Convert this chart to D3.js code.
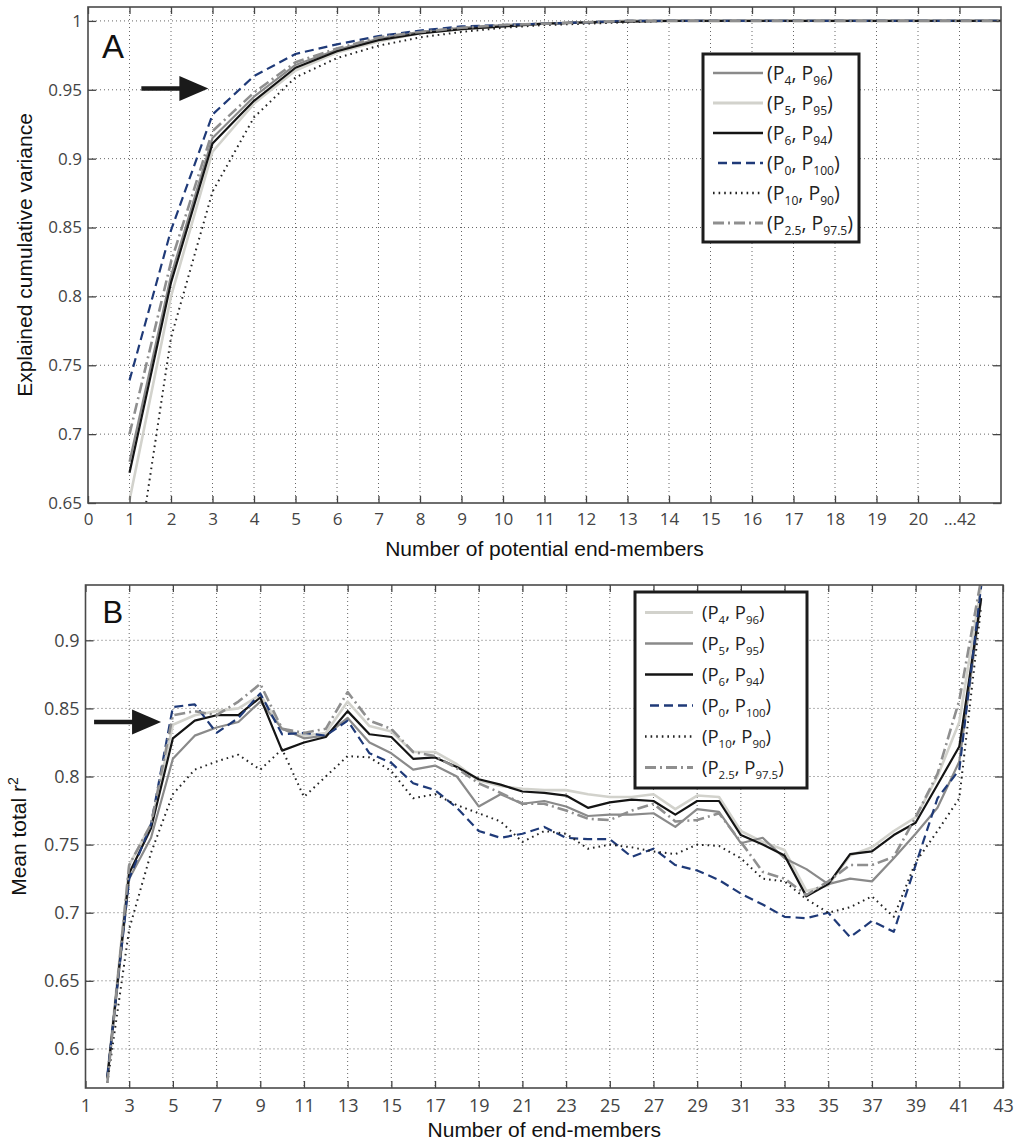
<!DOCTYPE html>
<html lang="en">
<head>
    <meta charset="UTF-8">
    <title>End-member variance and r2</title>
    <script src="https://cdn.jsdelivr.net/npm/d3@7"></script>
    <style>
    html,body{
        margin:0;
        background:#fff;
    }
    .tick text{
        font-family:"Open Sans",sans-serif;
        fill:#444;
    }
    .grid line{
        stroke:#666;
        stroke-width:1;
        stroke-dasharray:1,3;
    }
    .axisLabel{
        font-family:"Liberation Sans",Arial,sans-serif;
        font-size:21px;
        fill:#111;
    }
    .legend text{
        font-family:"Open Sans",sans-serif;
        fill:#222;
    }
    </style>
</head>
<body>
<script>
// ---------- panel A: explained cumulative variance ----------
const aPoints = [1,2,3,4,5,6,7,8,9,10,11,12,13,14,15,16,17,18,19,20,21,22];
const aTicks = [0,1,2,3,4,5,6,7,8,9,10,11,12,13,14,15,16,17,18,19,20,21];
const aTickLabels = ["0","1","2","3","4","5","6","7","8","9","10","11","12","13","14","15","16","17","18","19","20","…42"];
const aYTicks = [0.65,0.7,0.75,0.8,0.85,0.9,0.95,1];

const aP4  = [0.680,0.815,0.915,0.945,0.968,0.979,0.987,0.992,0.995,0.997,0.998,0.999,1,1,1,1,1,1,1,1,1,1];
const aP5  = [0.652,0.800,0.905,0.940,0.964,0.977,0.985,0.991,0.994,0.996,0.998,0.999,1,1,1,1,1,1,1,1,1,1];
const aP6  = [0.672,0.810,0.911,0.942,0.966,0.978,0.986,0.991,0.994,0.996,0.998,0.999,0.9995,1,1,1,1,1,1,1,1,1];
const aP0  = [0.739,0.848,0.932,0.960,0.976,0.983,0.989,0.993,0.996,0.997,0.998,0.999,1,1,1,1,1,1,1,1,1,1];
const aP10 = [0.570,0.770,0.876,0.930,0.959,0.973,0.982,0.988,0.992,0.995,0.997,0.998,0.999,1,1,1,1,1,1,1,1,1];
const aP25 = [0.700,0.825,0.920,0.948,0.970,0.980,0.988,0.992,0.995,0.997,0.998,0.999,1,1,1,1,1,1,1,1,1,1];

// ---------- panel B: mean total r2 ----------
const bPoints = [2,3,4,5,6,7,8,9,10,11,12,13,14,15,16,17,18,19,20,21,22,23,24,25,26,27,28,29,30,31,32,33,34,35,36,37,38,39,40,41,42];
const bTicks = [1,3,5,7,9,11,13,15,17,19,21,23,25,27,29,31,33,35,37,39,41,43];
const bYTicks = [0.6,0.65,0.7,0.75,0.8,0.85,0.9];

const bP4  = [0.580,0.735,0.765,0.838,0.845,0.848,0.850,0.860,0.835,0.830,0.832,0.855,0.837,0.833,0.818,0.818,0.809,0.797,0.793,0.791,0.790,0.790,0.787,0.785,0.785,0.787,0.776,0.786,0.785,0.760,0.752,0.746,0.716,0.720,0.742,0.748,0.760,0.770,0.800,0.840,0.940];
const bP5  = [0.578,0.725,0.755,0.813,0.830,0.836,0.840,0.855,0.835,0.828,0.830,0.843,0.825,0.817,0.805,0.808,0.800,0.778,0.787,0.780,0.782,0.778,0.771,0.772,0.772,0.773,0.763,0.776,0.774,0.751,0.755,0.740,0.732,0.721,0.725,0.723,0.740,0.758,0.777,0.811,0.930];
const bP6  = [0.579,0.729,0.762,0.828,0.841,0.845,0.845,0.858,0.819,0.825,0.829,0.848,0.831,0.829,0.813,0.814,0.807,0.798,0.794,0.789,0.788,0.786,0.777,0.781,0.783,0.782,0.772,0.782,0.782,0.757,0.750,0.742,0.712,0.721,0.743,0.745,0.757,0.766,0.794,0.822,0.931];
const bP0  = [0.580,0.725,0.765,0.851,0.853,0.832,0.843,0.861,0.831,0.832,0.830,0.841,0.817,0.810,0.795,0.790,0.777,0.760,0.755,0.758,0.763,0.755,0.754,0.754,0.741,0.747,0.735,0.731,0.724,0.714,0.706,0.697,0.696,0.700,0.682,0.694,0.686,0.735,0.784,0.805,0.940];
const bP10 = [0.575,0.688,0.744,0.787,0.805,0.811,0.816,0.805,0.820,0.785,0.800,0.815,0.814,0.804,0.784,0.787,0.779,0.773,0.767,0.752,0.760,0.758,0.747,0.750,0.748,0.745,0.743,0.750,0.749,0.740,0.725,0.723,0.710,0.700,0.704,0.712,0.697,0.737,0.760,0.784,0.925];
const bP25 = [0.575,0.735,0.765,0.845,0.848,0.845,0.855,0.868,0.835,0.832,0.835,0.862,0.841,0.835,0.818,0.815,0.806,0.795,0.788,0.780,0.780,0.775,0.769,0.768,0.775,0.780,0.767,0.768,0.773,0.752,0.730,0.725,0.713,0.723,0.735,0.735,0.741,0.770,0.802,0.856,0.945];

// line styles
const STYLE = {
    black:  {stroke:"#141414", width:2.2, dash:null},
    mid:    {stroke:"#8a8a8a", width:2.2, dash:null},
    light:  {stroke:"#d2d2cc", width:2.6, dash:null},
    blue:   {stroke:"#1f3a78", width:2.2, dash:"9,5"},
    dotted: {stroke:"#222",    width:2,   dash:"1.6,4"},
    dashdot:{stroke:"#8f8f8f", width:2.6, dash:"11,4,2,4"}
};

const svg = d3.select("body").append("svg")
    .attr("width",1014)
    .attr("height",1140);

function panel(opt){
    let g = svg.append("g").attr("transform",`translate(${opt.left},${opt.top})`);
    let w = opt.right - opt.left, h = opt.bottom - opt.top;
    let x = d3.scaleLinear().domain(opt.xDomain).range([0,w]);
    let y = d3.scaleLinear().domain(opt.yDomain).range([h,0]);

    // dotted grid
    g.append("g").attr("class","grid")
        .selectAll("line").data(opt.xTicks.filter(t=>t>opt.xDomain[0])).join("line")
        .attr("x1",d=>x(d)).attr("x2",d=>x(d)).attr("y1",0).attr("y2",h);
    g.append("g").attr("class","grid")
        .selectAll("line").data(opt.yTicks.filter(t=>t>opt.yDomain[0])).join("line")
        .attr("y1",d=>y(d)).attr("y2",d=>y(d)).attr("x1",0).attr("x2",w);

    // series, clipped to the plot box
    let clipId = "clip" + opt.name;
    g.append("clipPath").attr("id",clipId)
        .append("rect").attr("width",w).attr("height",h);
    let line = d3.line().x(d=>x(d[0])).y(d=>y(d[1]));
    let lines = g.append("g").attr("clip-path",`url(#${clipId})`);
    for(let s of opt.series){
        let st = STYLE[s.style];
        lines.append("path")
            .datum(opt.points.map((p,i)=>[p,s.values[i]]))
            .attr("fill","none")
            .attr("stroke",st.stroke)
            .attr("stroke-width",st.width)
            .attr("stroke-dasharray",st.dash)
            .attr("stroke-linejoin","round")
            .attr("d",line);
    }

    // axes with inward ticks on all four sides
    let fmtX = opt.xFormat || (d=>d);
    let bottom = g.append("g").attr("transform",`translate(0,${h})`)
        .call(d3.axisBottom(x).tickValues(opt.xTicks).tickFormat(fmtX)
            .tickSizeInner(-7).tickSizeOuter(0).tickPadding(opt.xPad));
    let left = g.append("g")
        .call(d3.axisLeft(y).tickValues(opt.yTicks).tickFormat(d=>String(+d.toFixed(2)))
            .tickSizeInner(-8).tickSizeOuter(0).tickPadding(opt.yPad));
    g.append("g")
        .call(d3.axisTop(x).tickValues(opt.xTicks).tickFormat("").tickSizeInner(-7).tickSizeOuter(0));
    g.append("g").attr("transform",`translate(${w},0)`)
        .call(d3.axisRight(y).tickValues(opt.yTicks).tickFormat("").tickSizeInner(-8).tickSizeOuter(0));
    g.selectAll(".domain").remove();
    g.selectAll(".tick line").attr("stroke","#444").attr("stroke-width",1.3);
    bottom.selectAll("text").style("font-size",opt.fontSize+"px");
    left.selectAll("text").style("font-size",opt.fontSize+"px");

    g.append("rect").attr("width",w).attr("height",h)
        .attr("fill","none").attr("stroke","#4a4a4a").attr("stroke-width",1.6);

    // panel letter
    g.append("text").attr("x",opt.letterX).attr("y",opt.letterY)
        .attr("font-family","Liberation Sans,Arial,sans-serif")
        .attr("font-size",opt.letterSize).attr("fill","#111").text(opt.name);

    // arrow
    let ax = x(opt.arrow[0]), ay = y(opt.arrow[1]);
    g.append("line").attr("x1",ax-67).attr("x2",ax-24).attr("y1",ay).attr("y2",ay)
        .attr("stroke","#1a1a1a").attr("stroke-width",4.5);
    g.append("path").attr("d",`M${ax},${ay}L${ax-29},${ay-12.5}L${ax-29},${ay+12.5}Z`)
        .attr("fill","#1a1a1a");

    // axis labels
    svg.append("text").attr("class","axisLabel")
        .attr("x",opt.left + w/2).attr("y",opt.xLabelY)
        .attr("text-anchor","middle").text(opt.xLabel);
    let yl = svg.append("text").attr("class","axisLabel")
        .attr("transform",`translate(${opt.yLabelX},${opt.top + h/2}) rotate(-90)`)
        .attr("text-anchor","middle");
    if(opt.name === "B"){
        yl.text("Mean total r");
        yl.append("tspan").attr("font-size","14px").attr("dy","-8").text("2");
    }else{
        yl.text(opt.yLabel);
    }

    // legend
    let lg = svg.append("g").attr("class","legend");
    let L = opt.legend;
    lg.append("rect").attr("x",L.x).attr("y",L.y).attr("width",L.w).attr("height",L.h)
        .attr("fill","#fff").attr("stroke","#1c1c1c").attr("stroke-width",3);
    opt.series.forEach((s,i)=>{
        let st = STYLE[s.style];
        let cy = L.y + L.first + i*L.step;
        lg.append("line")
            .attr("x1",L.x + L.s0 + (s.style==="blue"?5:0)).attr("x2",L.x + L.s1)
            .attr("y1",cy).attr("y2",cy)
            .attr("stroke",st.stroke).attr("stroke-width",st.width+0.3)
            .attr("stroke-dasharray",st.dash);
        let t = lg.append("text").attr("x",L.x + L.tx).attr("y",cy + L.fs*0.36)
            .style("font-size",L.fs+"px");
        t.append("tspan").text("(P");
        t.append("tspan").attr("dy",L.fs*0.25).style("font-size",(L.fs*0.62)+"px").text(s.lo);
        t.append("tspan").attr("dy",-L.fs*0.25).text(", P");
        t.append("tspan").attr("dy",L.fs*0.25).style("font-size",(L.fs*0.62)+"px").text(s.hi);
        t.append("tspan").attr("dy",-L.fs*0.25).text(")");
    });
}

panel({
    name:"A", left:88, top:7, right:1001, bottom:503,
    xDomain:[0,22], yDomain:[0.65,1.0101],
    xTicks:aTicks, yTicks:aYTicks, xFormat:(d,i)=>aTickLabels[i],
    xPad:10, yPad:6, fontSize:17,
    points:aPoints,
    series:[
        {values:aP4,  style:"mid",     lo:"4",   hi:"96"},
        {values:aP5,  style:"light",   lo:"5",   hi:"95"},
        {values:aP6,  style:"black",   lo:"6",   hi:"94"},
        {values:aP0,  style:"blue",    lo:"0",   hi:"100"},
        {values:aP10, style:"dotted",  lo:"10",  hi:"90"},
        {values:aP25, style:"dashdot", lo:"2.5", hi:"97.5"}
    ],
    letterX:14, letterY:51, letterSize:33,
    arrow:[2.9,0.951],
    xLabel:"Number of potential end-members", xLabelY:556,
    yLabel:"Explained cumulative variance", yLabelX:32,
    legend:{x:703, y:54, w:156, h:188, first:19, step:30, s0:10, s1:60, tx:64, fs:19.5}
});

panel({
    name:"B", left:85.5, top:585, right:1003, bottom:1088,
    xDomain:[1,43], yDomain:[0.5713,0.9406],
    xTicks:bTicks, yTicks:bYTicks,
    xPad:11, yPad:6, fontSize:18,
    points:bPoints,
    series:[
        {values:bP4,  style:"light",   lo:"4",   hi:"96"},
        {values:bP5,  style:"mid",     lo:"5",   hi:"95"},
        {values:bP6,  style:"black",   lo:"6",   hi:"94"},
        {values:bP0,  style:"blue",    lo:"0",   hi:"100"},
        {values:bP10, style:"dotted",  lo:"10",  hi:"90"},
        {values:bP25, style:"dashdot", lo:"2.5", hi:"97.5"}
    ],
    letterX:17, letterY:38, letterSize:31,
    arrow:[4.46,0.84],
    xLabel:"Number of end-members", xLabelY:1137,
    yLabel:"Mean total r2", yLabelX:26,
    legend:{x:635, y:592, w:172, h:196, first:20.5, step:31, s0:10, s1:58, tx:67, fs:18.5}
});
</script>
</body>
</html>
